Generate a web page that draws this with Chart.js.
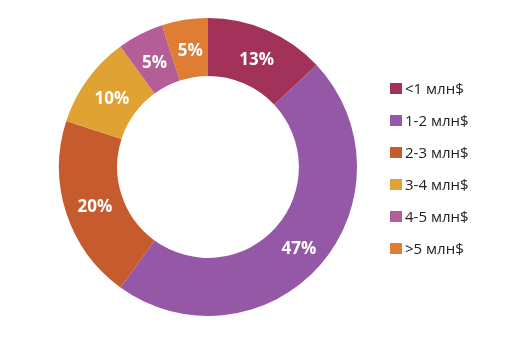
<!DOCTYPE html>
<html>
<head>
<meta charset="utf-8">
<script src="https://cdn.jsdelivr.net/npm/chart.js@4"></script>
<style>
html,body{margin:0;padding:0;background:#fff;}
#wrap{position:relative;width:524px;height:357px;}
#legend{position:absolute;left:390px;top:79px;font-family:"Open Sans",sans-serif;font-size:15px;color:#222;}
.item{height:32px;display:flex;align-items:flex-start;}
.box{width:12px;height:11px;margin-top:4px;margin-right:3px;}
.lbl{line-height:19px;}
</style>
</head>
<body>
<div id="wrap">
<canvas id="c" width="524" height="357"></canvas>
<div id="legend"></div>
</div>
<script>
const categories = ["<1 млн$", "1-2 млн$", "2-3 млн$", "3-4 млн$", "4-5 млн$", ">5 млн$"];
const values = [13, 47, 20, 10, 5, 5];
const colors = ["#A3325B", "#9558A6", "#C65C2E", "#E0A232", "#B55D97", "#E07D34"];

const labelPlugin = {
  id: 'pctLabels',
  afterDatasetsDraw(chart) {
    const ctx = chart.ctx;
    const meta = chart.getDatasetMeta(0);
    const total = values.reduce((a, b) => a + b, 0);
    ctx.save();
    ctx.font = 'bold 17px "Open Sans", sans-serif';
    ctx.fillStyle = '#fff';
    ctx.textAlign = 'center';
    ctx.textBaseline = 'middle';
    meta.data.forEach((arc, i) => {
      const p = arc.tooltipPosition();
      ctx.fillText(Math.round(values[i] / total * 100) + '%', p.x + 1, p.y + 3);
    });
    ctx.restore();
  }
};

new Chart(document.getElementById('c'), {
  type: 'doughnut',
  data: {
    labels: categories,
    datasets: [{ data: values, backgroundColor: colors, borderWidth: 0 }]
  },
  options: {
    responsive: false,
    animation: false,
    cutout: '61%',
    layout: { padding: { left: 59, right: 167, top: 18, bottom: 41 } },
    plugins: { legend: { display: false }, tooltip: { enabled: false } }
  },
  plugins: [labelPlugin]
});

const lg = document.getElementById('legend');
categories.forEach((c, i) => {
  const d = document.createElement('div');
  d.className = 'item';
  d.innerHTML = '<div class="box" style="background:' + colors[i] + '"></div><div class="lbl"></div>';
  d.querySelector('.lbl').textContent = c;
  lg.appendChild(d);
});
</script>
</body>
</html>
